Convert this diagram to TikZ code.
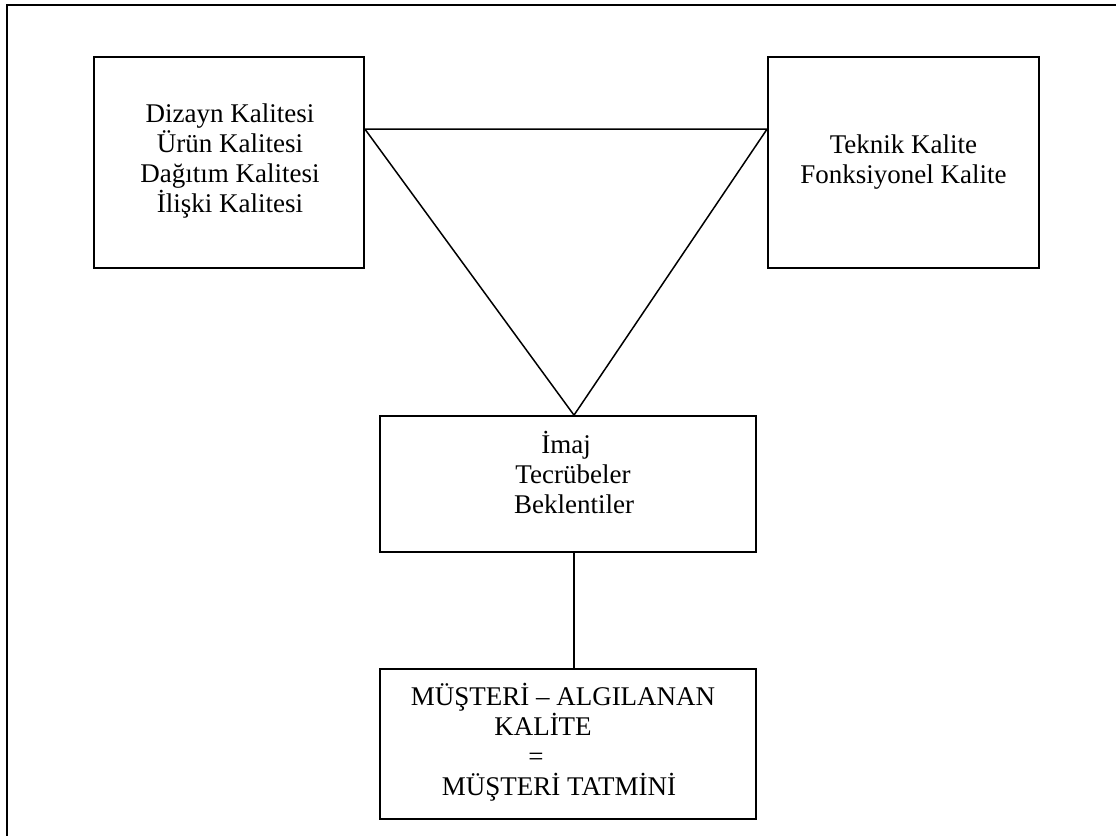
\documentclass[tikz,border=0pt]{standalone}
\usepackage{fontspec}
\setmainfont{Liberation Serif}
\begin{document}
\begin{tikzpicture}[x=1pt,y=-1pt,
  frameline/.style={line width=1.6pt},
  box/.style={draw,line width=1.7pt,rectangle,inner sep=0pt},
  txt/.style={align=center,inner sep=0pt,font=\fontsize{27}{30}\selectfont},
  link/.style={line width=1.5pt}]
\useasboundingbox (0,0) rectangle (1116,836);
% open frame: top and left edges only
\draw[frameline] (1116,5) -- (7,5) -- (7,836);
% boxes
\node[box,minimum width=270pt,minimum height=211pt] (lbox) at (229,162.5) {};
\node[box,minimum width=271pt,minimum height=211pt] (rbox) at (903.5,162.5) {};
\node[box,minimum width=376pt,minimum height=136pt] (mbox) at (568,484) {};
\node[box,minimum width=376pt,minimum height=150pt] (bbox) at (568,744) {};
% texts
\node[txt] (ltxt) at (230,161) {Dizayn Kalitesi\\Ürün Kalitesi\\Dağıtım Kalitesi\\İlişki Kalitesi};
\node[txt] (rtxt) at (903.5,162.5) {Teknik Kalite\\Fonksiyonel Kalite};
\node[txt] (mtxt) at (574,472) {İmaj\kern16pt\\Tecrübeler\kern2pt\\Beklentiler};
\node[txt] (btxt) at (568,742) {MÜŞTERİ – ALGILANAN\kern10pt\\KALİTE\kern50pt\\=\kern64pt\\MÜŞTERİ TATMİNİ\kern18pt};
% triangle between the three upper boxes
\coordinate (tl) at (lbox.east |- 0,129);
\coordinate (tr) at (rbox.west |- 0,129);
\coordinate (apex) at (574,0 |- mbox.north);
\draw[link] (tl) -- (tr) -- (apex) -- cycle;
% link down to the result box
\coordinate (mdown) at (574,0 |- mbox.south);
\coordinate (bup) at (574,0 |- bbox.north);
\draw[link] (mdown) -- (bup);
\end{tikzpicture}
\end{document}
